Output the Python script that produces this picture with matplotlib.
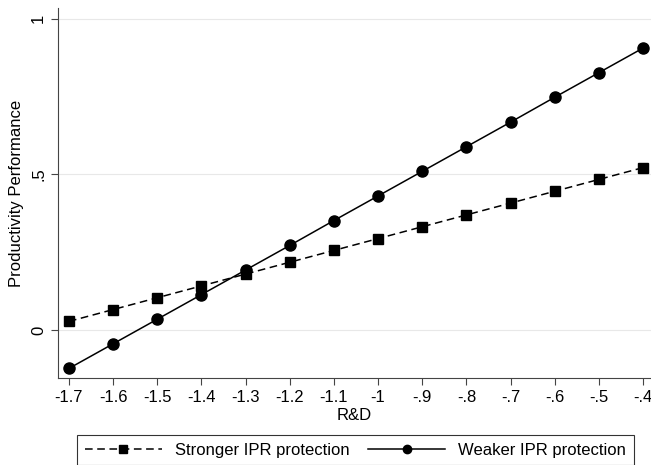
import matplotlib.pyplot as plt

rd = [-1.7, -1.6, -1.5, -1.4, -1.3, -1.2, -1.1, -1.0, -0.9, -0.8, -0.7, -0.6, -0.5, -0.4]
stronger = [0.028, 0.066, 0.104, 0.142, 0.180, 0.218, 0.256, 0.294, 0.332, 0.370, 0.408, 0.446, 0.484, 0.522]
weaker = [-0.123, -0.044, 0.035, 0.114, 0.193, 0.272, 0.352, 0.431, 0.510, 0.589, 0.668, 0.748, 0.827, 0.906]
xtick_labels = ['-1.7', '-1.6', '-1.5', '-1.4', '-1.3', '-1.2', '-1.1', '-1', '-.9', '-.8', '-.7', '-.6', '-.5', '-.4']
yticks = [0, 0.5, 1]
ytick_labels = ['0', '.5', '1']

plt.rcParams['font.family'] = ['Liberation Sans', 'DejaVu Sans']

fig = plt.figure(figsize=(6.51, 4.65), dpi=100)
ax = fig.add_axes([0.089, 0.187, 0.911, 0.796])

ax.plot(rd, stronger, color='black', linestyle=(0, (5, 3)), linewidth=1.1,
        marker='s', markersize=7.5, label='Stronger IPR protection')
ax.plot(rd, weaker, color='black', linestyle='-', linewidth=1.1,
        marker='o', markersize=8, label='Weaker IPR protection')

ax.set_xlim(-1.725, -0.382)
ax.set_ylim(-0.154, 1.035)
ax.set_xticks(rd)
ax.set_xticklabels(xtick_labels, fontsize=12)
ax.set_yticks(yticks)
ax.set_yticklabels(ytick_labels, fontsize=12, rotation=90, va='center')
ax.tick_params(length=5, width=0.8, color='#444444')
ax.grid(axis='y', color='#e8e8e8', linewidth=0.8)
ax.set_axisbelow(True)
for s in ['top', 'right']:
    ax.spines[s].set_visible(False)
for s in ['left', 'bottom']:
    ax.spines[s].set_color('#444444')
    ax.spines[s].set_linewidth(0.8)

ax.set_xlabel('R&D', fontsize=12, labelpad=2)
ax.set_ylabel('Productivity Performance', fontsize=12, labelpad=5)

leg = fig.legend(loc='upper left', bbox_to_anchor=(0.106, 0.082, 0.88, 0), mode='expand',
                 ncol=2, fontsize=12, frameon=True, fancybox=False, edgecolor='black',
                 handlelength=4.6, handletextpad=0.8, markerscale=0.75,
                 borderpad=0.45, columnspacing=2)
leg.get_frame().set_linewidth(0.8)

fig.savefig('out.png', dpi=100)
